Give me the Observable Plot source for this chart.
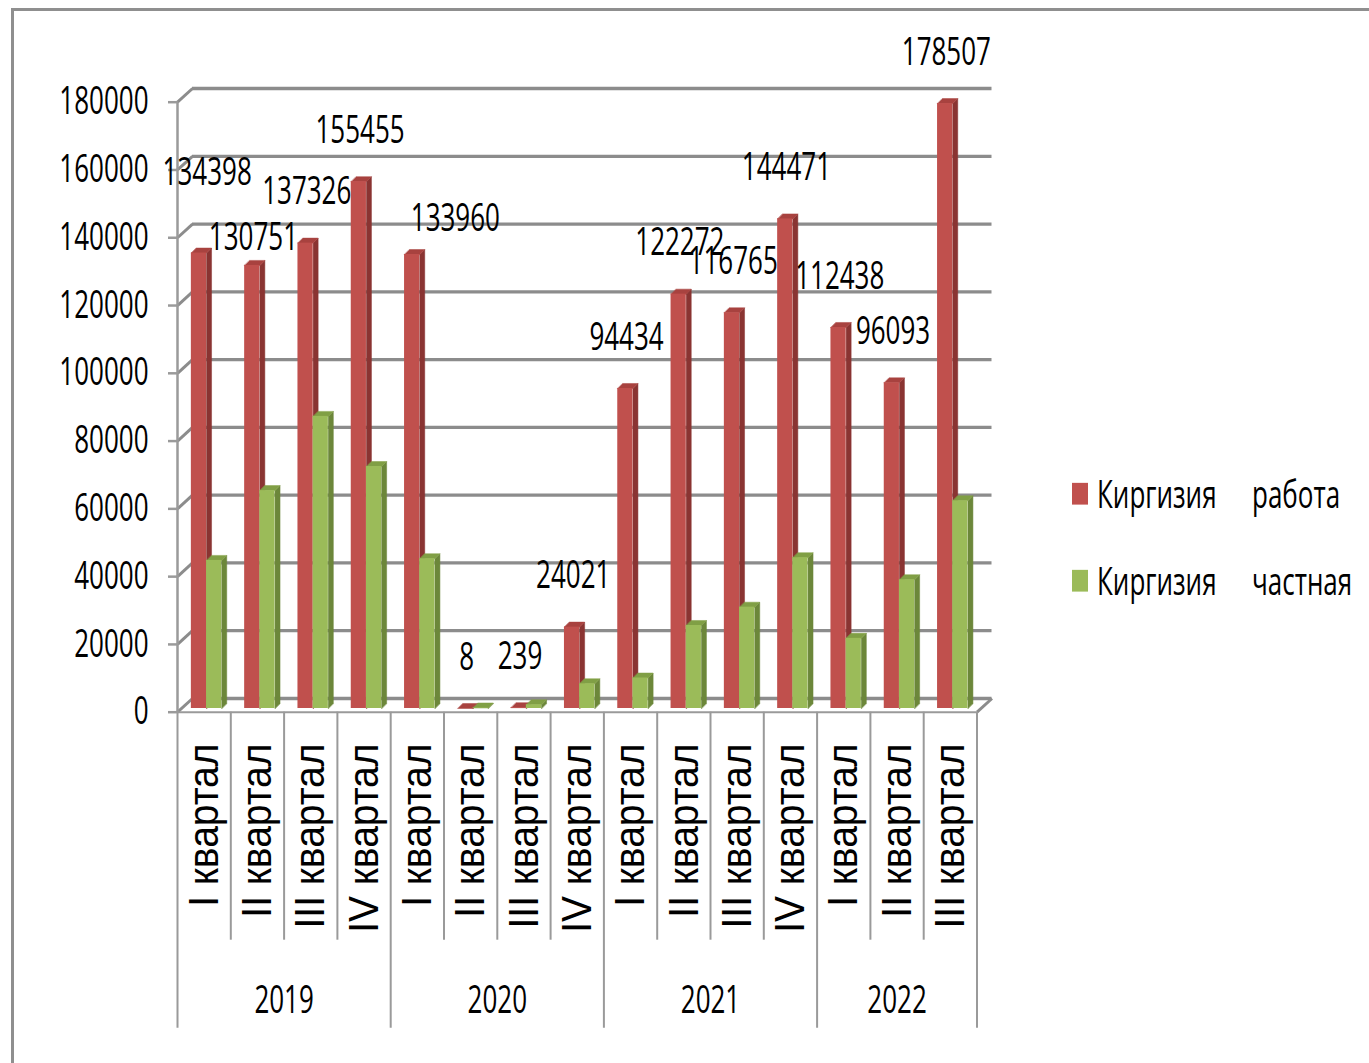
<!DOCTYPE html>
<html>
<head>
<meta charset="utf-8">
<script src="https://cdn.jsdelivr.net/npm/d3@7"></script>
<script src="https://cdn.jsdelivr.net/npm/@observablehq/plot@0.6"></script>
<style>
  html, body { margin: 0; padding: 0; background: #fff; }
  #wrap { position: relative; width: 1369px; height: 1063px; overflow: hidden; background: #fff; }
  #frame { position: absolute; left: 11px; top: 8px; width: 1400px; height: 1100px;
           border-top: 3px solid #8f8f8f; border-left: 3px solid #8f8f8f; }
  #chart { position: absolute; left: 0; top: 0; }
  .item { position: absolute; left: 1072px; height: 30px; display: flex; align-items: center;
          font-family: "Open Sans", sans-serif; font-size: 26px; color: #000;
          transform: scaleY(1.45); transform-origin: left center; white-space: nowrap; }
  .sw { width: 16px; height: 15px; margin-right: 9px; }
  .w2 { position: absolute; left: 180px; }
</style>
</head>
<body>
<div id="wrap">
  <div id="frame"></div>
  <div id="chart"></div>
</div>
<script>
// ---- data ----
const years    = ["2019","2019","2019","2019","2020","2020","2020","2020","2021","2021","2021","2021","2022","2022","2022"];
const quarters = ["I","II","III","IV","I","II","III","IV","I","II","III","IV","I","II","III"];
const quarterWord = "квартал";
const seriesNames = ["Киргизия работа", "Киргизия частная"];
const work    = [134398, 130751, 137326, 155455, 133960, 8, 239, 24021, 94434, 122272, 116765, 144471, 112438, 96093, 178507];
const privateSector = [43700, 64300, 86200, 71400, 44200, 150, 1100, 7300, 9000, 24500, 29900, 44500, 20700, 38000, 61300];
const yTicks  = [0, 20000, 40000, 60000, 80000, 100000, 120000, 140000, 160000, 180000];

// ---- layout / style constants ----
const W = 1369, H = 1063;
const L = 177, R = 976.5, ZERO = 708, TOP = 98;
const XU = quarters.length / (R - L);      // x data units per pixel
const YU = 180000 / (ZERO - TOP);          // y data units per pixel
const colors = {
  red:   {front: "#C0504D", side: "#8A3432", top: "#A8423F"},
  green: {front: "#9BBB59", side: "#6C873A", top: "#809F45"}
};
const grid = "#8c8c8c";
const FONT = "Open Sans, sans-serif";
const QFONT = "Liberation Sans, Arial, sans-serif";

const table = quarters.map((q, i) => ({i, q, year: years[i], work: work[i], priv: privateSector[i]}));

// bar placement inside each category cell (fractions of cell)
const barPos = {work: [0.26, 0.545], priv: [0.545, 0.83]};
const DX = XU * 5, DY = YU * 5;

function faces(key) {
  const [a, b] = barPos[key];
  const side = [], top = [];
  table.forEach(d => {
    const v = d[key], x1 = d.i + a, x2 = d.i + b;
    side.push({id: d.i, x: x2, y: 0}, {id: d.i, x: x2, y: v}, {id: d.i, x: x2 + DX, y: v + DY}, {id: d.i, x: x2 + DX, y: DY});
    top.push({id: d.i, x: x1, y: v}, {id: d.i, x: x2, y: v}, {id: d.i, x: x2 + DX, y: v + DY}, {id: d.i, x: x1 + DX, y: v + DY});
  });
  return {side, top};
}
const redF = faces("work"), greenF = faces("priv");

// label nudges (px) for data labels of the red series
const labelNudge = {0: [7, -29], 1: [0, 24], 4: [42, 15]};

// year groups & separators
const yearGroups = [];
years.forEach((y, i) => {
  const g = yearGroups[yearGroups.length - 1];
  if (g && g.year === y) g.end = i + 1; else yearGroups.push({year: y, start: i, end: i + 1});
});
const yearBounds = [0, ...yearGroups.map(g => g.end)];
const quarterBounds = d3.range(1, quarters.length).filter(b => !yearBounds.includes(b));

const AX = 3.7; // front axis offset from bar base (px)

const plot = Plot.plot({
  width: W, height: H,
  marginLeft: L, marginRight: W - R, marginTop: TOP, marginBottom: H - ZERO,
  x: {domain: [0, quarters.length], axis: null},
  y: {domain: [0, 180000], label: null},
  style: {background: "transparent", overflow: "visible"},
  marks: [
    // back wall gridlines
    Plot.ruleY(yTicks, {x1: 0, x2: quarters.length, dx: 15, dy: -10, stroke: grid, strokeWidth: 3.3}),
    // slanted connectors from front axis to back wall
    Plot.link(yTicks, {x1: 0, y1: d => d, x2: XU * 15, y2: d => d + YU * 13.7, dy: AX, stroke: grid, strokeWidth: 3}),
    // floor front edge & right slant
    Plot.ruleY([0], {x1: 0, x2: quarters.length, dy: AX, stroke: "#9a9a9a", strokeWidth: 2}),
    Plot.link([0], {x1: quarters.length, y1: 0, x2: quarters.length + XU * 15, y2: YU * 13.7, dy: AX, stroke: grid, strokeWidth: 3}),
    // y axis line
    Plot.ruleX([0], {y1: 180000, y2: 0, dy: AX, stroke: "#9a9a9a", strokeWidth: 2.5}),
    // category separators below the floor
    Plot.ruleX(yearBounds, {y1: 0, y2: -YU * 316, dy: AX, stroke: "#9a9a9a", strokeWidth: 2}),
    Plot.ruleX(quarterBounds, {y1: 0, y2: -YU * 228, dy: AX, stroke: "#9a9a9a", strokeWidth: 2}),
    // y axis
    Plot.axisY(yTicks, {anchor: "left", tickSize: 9, tickPadding: 20, dy: AX, tickFormat: d => String(d),
      fontSize: 26, fontFamily: FONT, stroke: "#9a9a9a", fill: "#000", strokeWidth: 2.5, label: null}),
    // red bars (3D)
    Plot.line(redF.side, {x: "x", y: "y", z: "id", fill: colors.red.side, stroke: colors.red.side, strokeWidth: 0.5, curve: "linear-closed"}),
    Plot.line(redF.top, {x: "x", y: "y", z: "id", fill: colors.red.top, stroke: colors.red.top, strokeWidth: 0.5, curve: "linear-closed"}),
    Plot.rect(table, {x1: d => d.i + barPos.work[0], x2: d => d.i + barPos.work[1], y1: 0, y2: "work", fill: colors.red.front}),
    // green bars (3D)
    Plot.line(greenF.side, {x: "x", y: "y", z: "id", fill: colors.green.side, stroke: colors.green.side, strokeWidth: 0.5, curve: "linear-closed"}),
    Plot.line(greenF.top, {x: "x", y: "y", z: "id", fill: colors.green.top, stroke: colors.green.top, strokeWidth: 0.5, curve: "linear-closed"}),
    Plot.rect(table, {x1: d => d.i + barPos.priv[0], x2: d => d.i + barPos.priv[1], y1: 0, y2: "priv", fill: colors.green.front}),
    // data labels (red series)
    Plot.text(table, {
      x: d => d.i + 0.5 + XU * (-4 + (labelNudge[d.i] ? labelNudge[d.i][0] : 0)),
      y: d => d.work + YU * (51 - (labelNudge[d.i] ? labelNudge[d.i][1] : 0)),
      text: d => String(d.work), fontSize: 26, fontFamily: FONT, fill: "#000"
    }),
    // quarter labels (rotated)
    Plot.text(table, {x: d => d.i + 0.5, text: d => `${d.q} ${quarterWord}`, frameAnchor: "bottom", dy: 35,
      rotate: -90, textAnchor: "end", lineAnchor: "middle", fontSize: 39, fontFamily: QFONT, fill: "#000"}),
    // year labels
    Plot.text(yearGroups, {x: g => (g.start + g.end) / 2, text: "year", frameAnchor: "bottom", dy: 292,
      lineAnchor: "middle", fontSize: 26, fontFamily: FONT, fill: "#000"})
  ]
});

document.getElementById("chart").appendChild(plot);

// vertically stretch the condensed-looking texts (as in the reference); widen rotated labels slightly
d3.select(plot).selectAll("text").each(function () {
  const p = this.parentNode;
  const ff = (p && p.getAttribute && p.getAttribute("font-family")) || "";
  let s = null;
  if (ff.includes("Open Sans")) s = " scale(1,1.45)";
  else if (ff.includes("Liberation Sans")) s = " scale(1,1.1)";
  if (!s) return;
  const t = this.getAttribute("transform");
  if (t) this.setAttribute("transform", t + s);
  else {
    const x = this.getAttribute("x") || 0, y = this.getAttribute("y") || 0;
    this.removeAttribute("x"); this.removeAttribute("y");
    this.setAttribute("transform", `translate(${x},${y})` + s);
  }
});

// legend (right side)
const wrap = document.getElementById("wrap");
[[seriesNames[0], colors.red.front, 493], [seriesNames[1], colors.green.front, 580]].forEach(([name, c, cy]) => {
  const [w1, w2] = name.split(" ");
  const div = document.createElement("div");
  div.className = "item";
  div.style.top = (cy - 15) + "px";
  div.innerHTML = `<div class="sw" style="background:${c}"></div><span>${w1}</span><span class="w2">${w2}</span>`;
  wrap.appendChild(div);
});
</script>
</body>
</html>
